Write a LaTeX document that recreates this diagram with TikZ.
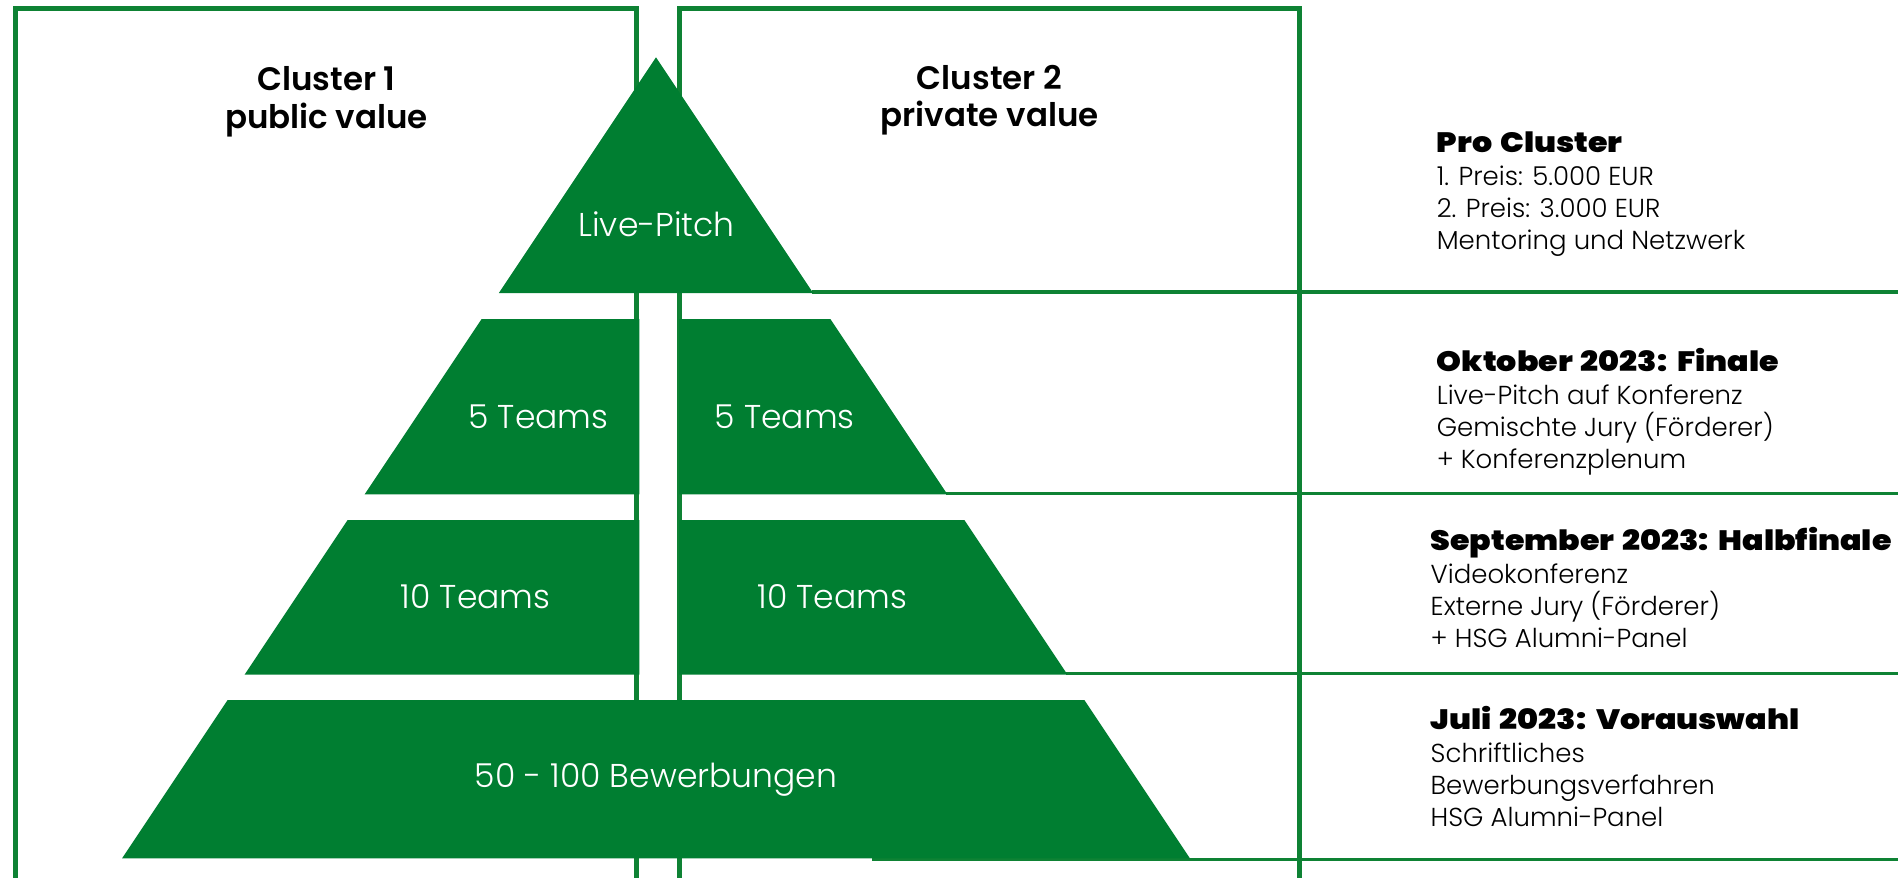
\documentclass[tikz,border=0pt]{standalone}
\usepackage{fontspec}
\IfFontExistsTF{Poppins Light}{\newfontfamily\lightf{Poppins Light}}{\newfontfamily\lightf{Poppins}}
\IfFontExistsTF{Poppins SemiBold}{\newfontfamily\semif{Poppins SemiBold}}{\newfontfamily\semif{Poppins}[UprightFont={* Bold}]}
\IfFontExistsTF{Poppins Black}{\newfontfamily\headf{Poppins Black}[FakeStretch=1.13,WordSpace=1.5]}{\newfontfamily\headf{Poppins ExtraBold}[FakeStretch=1.17,WordSpace=1.5]}
\definecolor{pgreen}{RGB}{0,126,49}
\definecolor{lgreen}{RGB}{14,130,52}
\tikzset{
  pyr/.style={fill=pgreen, draw=none},
  boxline/.style={draw=lgreen, line width=5pt, line join=miter},
  hline/.style={draw=lgreen, line width=3.5pt},
  plabel/.style={text=white, font=\lightf\fontsize{33}{38}\selectfont, anchor=base, inner sep=0pt},
  clabel/.style={font=\semif\fontsize{32.5}{37.6}\selectfont, align=center, anchor=base, inner sep=0pt},
  block/.style={font=\lightf\fontsize{26}{32}\selectfont, align=left, anchor=base west, inner sep=0pt},
}
\newcommand{\hd}[1]{{\headf\fontsize{28}{32}\selectfont #1}}
\begin{document}
\begin{tikzpicture}[x=1pt,y=-1pt]
\useasboundingbox (0,0) rectangle (1898,878);
% frame coordinates
\coordinate (b1bl) at (15,890);
\coordinate (b1tl) at (15,8.5);
\coordinate (b1tr) at (636.5,8.5);
\coordinate (b1br) at (636.5,890);
\coordinate (b2bl) at (679.5,890);
\coordinate (b2tl) at (679.5,8.5);
\coordinate (b2tr) at (1299.6,8.5);
\coordinate (b2br) at (1299.6,890);
\draw[boxline] (b1bl) -- (b1tl) -- (b1tr) -- (b1br);
\draw[boxline] (b2bl) -- (b2tl) -- (b2tr) -- (b2br);
% horizontal separators
\coordinate (h1a) at (812,292);  \coordinate (h1b) at (1910,292);
\coordinate (h2a) at (946,493.5); \coordinate (h2b) at (1910,493.5);
\coordinate (h3a) at (1066,673.5); \coordinate (h3b) at (1910,673.5);
\coordinate (h4a) at (872,859.3); \coordinate (h4b) at (1910,859.3);
\draw[hline] (h1a) -- (h1b);
\draw[hline] (h2a) -- (h2b);
\draw[hline] (h3a) -- (h3b);
\draw[hline] (h4a) -- (h4b);
% pyramid
\fill[pyr] (656,57.3) -- (813.1,293) -- (498.9,293) -- cycle;
\fill[pyr] (481.6,319) -- (639.3,319) -- (639.3,494.3) -- (364.7,494.3) -- cycle;
\fill[pyr] (679,319) -- (830.4,319) -- (947.3,494.3) -- (679,494.3) -- cycle;
\fill[pyr] (347.6,520) -- (639.3,520) -- (639.3,674.6) -- (244.6,674.6) -- cycle;
\fill[pyr] (679,520) -- (964.4,520) -- (1067.4,674.6) -- (679,674.6) -- cycle;
\fill[pyr] (227.6,700) -- (1084.4,700) -- (1189.9,858.3) -- (122.1,858.3) -- cycle;
% pyramid labels
\node[plabel] (lp) at (656.6,236.7) {Live-Pitch};
\node[plabel] (t5a) at (538.4,428) {5 Teams};
\node[plabel] (t5b) at (784.8,428) {5 Teams};
\node[plabel] (t10a) at (475.7,608.3) {10 Teams};
\node[plabel] (t10b) at (832.3,608.3) {10 Teams};
\node[plabel] (bew) at (656,787.7) {50 - 100 Bewerbungen};
% cluster labels (anchor = baseline of last line)
\node[clabel] (c1) at (326.5,128.3) {Cluster 1\\public value};
\node[clabel] (c2) at (989.6,126.7) {Cluster 2\\private value};
% right text blocks (anchor = baseline of last line)
\node[block] (pro) at (1436.6,249) {\hd{Pro Cluster}\\[1pt]1. Preis: 5.000 EUR\\2. Preis: 3.000 EUR\\Mentoring und Netzwerk};
\node[block] (okt) at (1436.6,468) {\hd{Oktober 2023: Finale}\\[1pt]Live-Pitch auf Konferenz\\Gemischte Jury (Förderer)\\+ Konferenzplenum};
\node[block] (sep) at (1430.5,647.3) {\hd{September 2023: Halbfinale}\\[1pt]Videokonferenz\\Externe Jury (Förderer)\\+ HSG Alumni-Panel};
\node[block] (jul) at (1430.5,826) {\hd{Juli 2023: Vorauswahl}\\[1pt]Schriftliches\\Bewerbungsverfahren\\HSG Alumni-Panel};
\end{tikzpicture}
\end{document}
